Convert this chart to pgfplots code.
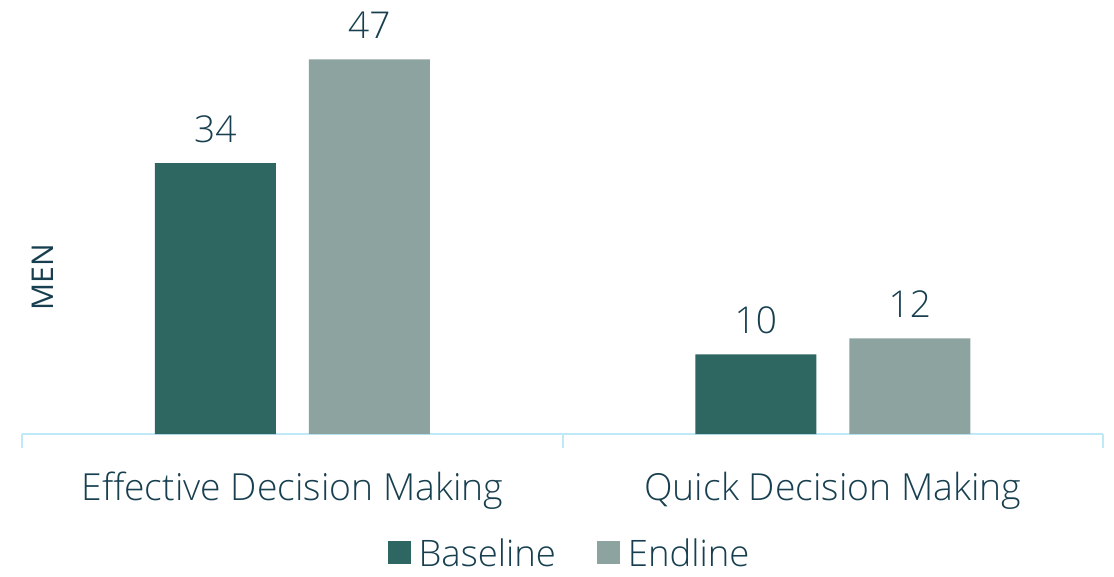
\documentclass[border=0pt]{standalone}
\usepackage{pgfplots}
\pgfplotsset{compat=1.18}
\usepackage{fontspec}
\setmainfont{Open Sans Light}
\newfontfamily\osreg{Open Sans}
\definecolor{basec}{HTML}{2E6661}
\definecolor{endc}{HTML}{8CA3A0}
\definecolor{txt}{HTML}{173F4F}
\definecolor{axc}{HTML}{BFE9F7}
\begin{document}
\begin{tikzpicture}
\begin{axis}[
  name=ax,
  scale only axis,
  width=1081pt, height=434pt,
  xmin=-0.5, xmax=1.5, ymin=0, ymax=54.45,
  ybar=33pt, bar width=121pt,
  axis x line*=bottom, axis y line=none,
  axis line style={draw=axc, line width=2pt},
  x axis line style={-},
  xtick={0,1}, xticklabels={Effective Decision Making, Quick Decision Making},
  major tick length=0pt,
  minor xtick={-0.5,0.5,1.5},
  minor tick length=14pt,
  tick align=outside,
  minor tick style={draw=axc, line width=2pt},
  xticklabel style={font=\fontsize{37.3}{40}\selectfont, text=txt, anchor=base, yshift=-66pt},
  /pgf/number format/assume math mode=true,
  nodes near coords,
  every node near coord/.append style={font=\fontsize{37}{40}\selectfont, text=txt, yshift=17pt},
  legend columns=2,
  legend style={at={(0.506,-0.274)}, anchor=center, draw=none, fill=none, inner sep=0pt,
    font=\fontsize{36.5}{40}\selectfont, text=txt,
    nodes={inner sep=1pt, text depth=0pt},
    /tikz/every even column/.append style={column sep=40pt}},
  legend image code/.code={\fill[#1] (0pt,-11.5pt) rectangle (23pt,11.5pt); \path (30pt,0pt);},
  clip=false,
]
\addplot[fill=basec, draw=none] coordinates {(0,34) (1,10)};
\addplot[fill=endc, draw=none] coordinates {(0,47) (1,12)};
\legend{Baseline, Endline}
\node[rotate=90, font=\osreg\fontsize{30}{34}\selectfont, text=txt] at ([shift={(21pt,157pt)}]rel axis cs:0,0) {MEN};
\end{axis}
\path[use as bounding box] ([shift={(-22pt,-142pt)}]ax.south west) rectangle ([xshift=11pt]ax.north east);
\end{tikzpicture}
\end{document}
